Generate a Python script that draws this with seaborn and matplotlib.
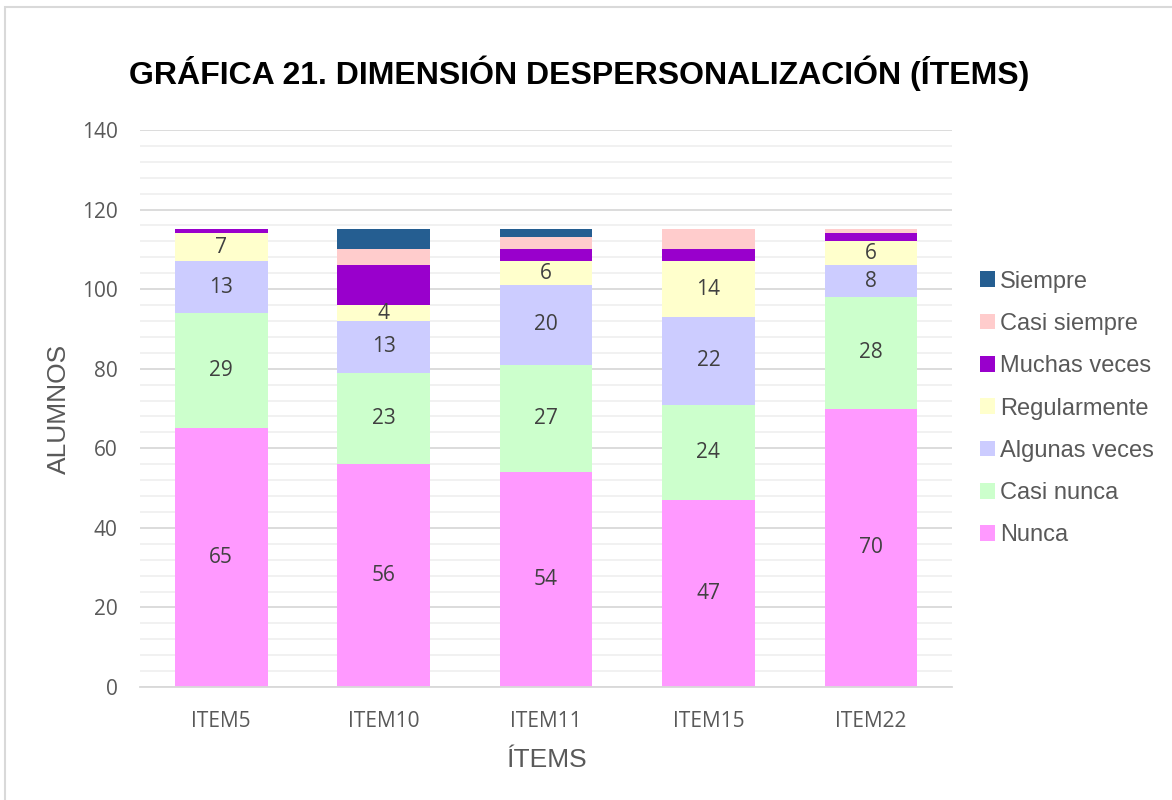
import matplotlib
matplotlib.use("Agg")
import matplotlib.pyplot as plt
from matplotlib.patches import Rectangle
from matplotlib.ticker import MultipleLocator
import seaborn as sns
import numpy as np

# data
items = ["ITEM5", "ITEM10", "ITEM11", "ITEM15", "ITEM22"]
nunca = [65, 56, 54, 47, 70]
casi_nunca = [29, 23, 27, 24, 28]
algunas_veces = [13, 13, 20, 22, 8]
regularmente = [7, 4, 6, 14, 6]
muchas_veces = [1, 10, 3, 3, 2]
casi_siempre = [0, 4, 3, 5, 1]
siempre = [0, 5, 2, 0, 0]

series_names = ["Nunca", "Casi nunca", "Algunas veces", "Regularmente",
                "Muchas veces", "Casi siempre", "Siempre"]
series_vals = [nunca, casi_nunca, algunas_veces, regularmente,
               muchas_veces, casi_siempre, siempre]
colors = ["#FF99FF", "#CCFFCC", "#CCCCFF", "#FFFFCC",
          "#9900CC", "#FFCCCC", "#255E91"]
labelled = ["Nunca", "Casi nunca", "Algunas veces", "Regularmente"]

sns.set_style("white")
plt.rcParams['font.family'] = ['Liberation Sans', 'DejaVu Sans']

fig = plt.figure(figsize=(11.72, 8), dpi=100)
ax = fig.add_axes([0.1195, 0.14125, 0.6928, 0.69625])

bottom = np.zeros(len(items))
for name, vals, col in zip(series_names, series_vals, colors):
    sns.barplot(x=items, y=vals, bottom=bottom, color=col, width=0.57,
                label=name, ax=ax, saturation=1, linewidth=0)
    cont = ax.containers[-1]
    if name in labelled:
        ax.bar_label(cont, labels=[str(v) if v else "" for v in vals],
                     label_type="center", fontsize=15, color="#404040",
                     family="Open Sans")
    bottom = bottom + np.array(vals)

ax.set_ylim(0, 140)
ax.set_xlim(-0.5, 4.5)
ax.yaxis.set_major_locator(MultipleLocator(20))
ax.yaxis.set_minor_locator(MultipleLocator(4))
ax.grid(axis="y", which="major", color="#d9d9d9", linewidth=1.3, zorder=0)
ax.grid(axis="y", which="minor", color="#f0f0f0", linewidth=1.3, zorder=0)
ax.set_axisbelow(True)
for s in ["top", "right", "left"]:
    ax.spines[s].set_visible(False)
ax.spines["bottom"].set_color("#d9d9d9")
ax.spines["bottom"].set_linewidth(1.3)
ax.tick_params(axis="both", which="both", length=0, labelsize=15,
               labelcolor="#595959")
for lab in ax.get_xticklabels() + ax.get_yticklabels():
    lab.set_family("Open Sans")
ax.tick_params(axis="y", pad=16)
ax.tick_params(axis="x", pad=17)

ax.set_xlabel("ÍTEMS", fontsize=19, color="#595959", labelpad=12)
ax.set_ylabel("ALUMNOS", fontsize=19, color="#595959", labelpad=8)

fig.text(0.494, 0.908, "GRÁFICA 21. DIMENSIÓN DESPERSONALIZACIÓN (ÍTEMS)",
         ha="center", va="center", fontsize=23, fontweight="bold",
         color="black")

handles, labels = ax.get_legend_handles_labels()
leg = ax.legend(handles[::-1], labels[::-1], loc="center left",
                bbox_to_anchor=(1.008, 0.5), frameon=False, fontsize=17,
                handlelength=0.65, handleheight=0.65, handletextpad=0.2,
                labelspacing=0.86, labelcolor="#595959")

fig.patches.append(Rectangle((5 / 1172, -0.01), 1.0, 1 - 7 / 800 + 0.01,
                             transform=fig.transFigure, fill=False,
                             edgecolor="#d9d9d9", linewidth=1.5))

fig.savefig("out.png", dpi=100)
